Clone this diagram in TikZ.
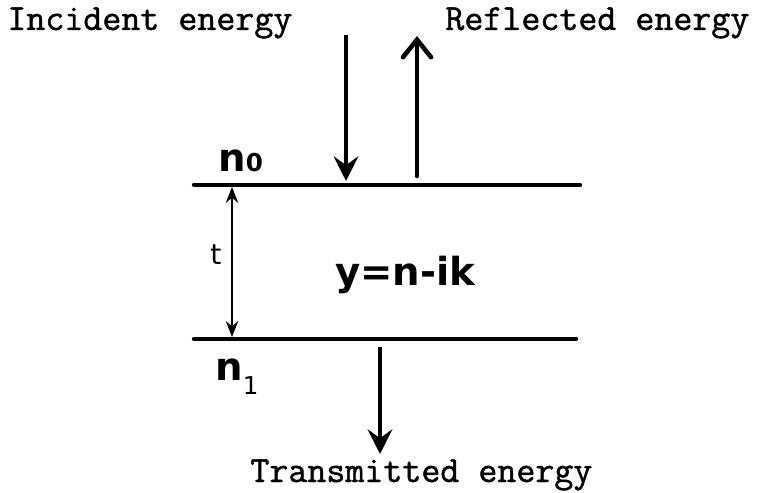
\documentclass[tikz,border=0pt]{standalone}
\usepackage{fontspec}
\setsansfont{DejaVu Sans}
\newfontfamily\typer[FakeBold=1.2]{Latin Modern Mono}
\usetikzlibrary{arrows.meta,positioning}

\begin{document}
\begin{tikzpicture}[
  x=0.02cm, y=-0.02cm,
  every node/.style={inner sep=0pt},
  caption/.style={font=\fontsize{21}{25}\selectfont\typer},
  medium/.style={font=\fontsize{22}{26}\selectfont\sffamily\bfseries},
  interface/.style={line width=2.5pt, line cap=round},
  ray/.style={line width=2.6pt,
              -{Stealth[length=14pt, width=14pt, inset=5pt]}},
  backray/.style={line width=2.6pt, line cap=round,
              -{Straight Barb[length=10pt, width=16pt, line cap=round]}},
  gap/.style={line width=1.6pt,
              {Stealth[length=9pt, width=7pt]}-{Stealth[length=9pt, width=7pt]}},
  >=Stealth
]
\useasboundingbox (0,0) rectangle (767,493);

% Film boundaries
\coordinate (top-w) at (194,185);
\coordinate (top-e) at (580,185);
\coordinate (bot-w) at (194,339);
\coordinate (bot-e) at (576,339);
\draw[interface] (top-w) -- (top-e);
\draw[interface] (bot-w) -- (bot-e);

% Energy labels
\node[caption, anchor=base west] (incident) at (7,30) {Incident energy};
\node[caption, anchor=base west] (reflected) at (445,30) {Reflected energy};
\node[caption, anchor=base west] (transmitted) at (250,482) {Transmitted energy};

% Media
\node[medium, anchor=base west] (n0) at (218,172)
  {n{\fontsize{14}{14}\selectfont 0}};
\node[medium, anchor=base west] (n1) at (215,380)
  {n\raisebox{-8pt}{\fontsize{14}{14}\selectfont\mdseries 1}};
\node[medium, anchor=base west] (film) at (335,285) {y=n-ik};
\node[font=\fontsize{16}{18}\selectfont\sffamily] (thick) at (216,255) {t};

% Rays
\coordinate (inc-a) at (346,35);
\coordinate (inc-b) at (346,181);
\coordinate (ref-a) at (417,176);
\coordinate (ref-b) at (417,36);
\coordinate (tra-a) at (380,347);
\coordinate (tra-b) at (380,454);
\draw[ray] (inc-a) -- (inc-b);
\draw[backray] (ref-a) -- (ref-b);
\draw[ray] (tra-a) -- (tra-b);

% Thickness
\coordinate (t-a) at (232,187);
\coordinate (t-b) at (232,337);
\draw[gap] (t-a) -- (t-b);

\end{tikzpicture}
\end{document}
